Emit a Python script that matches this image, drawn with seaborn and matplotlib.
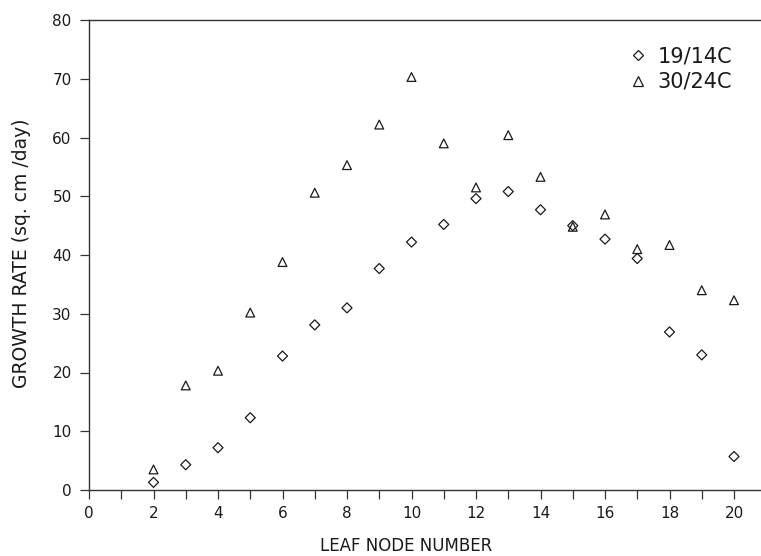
import matplotlib
matplotlib.use("Agg")
import matplotlib.pyplot as plt
from matplotlib.lines import Line2D
import seaborn as sns
import pandas as pd

# Leaf node numbers and leaf-area growth rates (sq. cm/day) at two temperature regimes
nodes = list(range(2, 21))
rate_19_14 = [1.3, 4.3, 7.2, 12.3, 22.8, 28.1, 31.0, 37.7, 42.2, 45.2, 49.6,
              50.8, 47.7, 45.0, 42.7, 39.4, 26.9, 23.0, 5.7]
rate_30_24 = [3.5, 17.8, 20.3, 30.2, 38.8, 50.6, 55.3, 62.2, 70.3, 59.0, 51.5,
              60.4, 53.3, 44.8, 46.9, 41.0, 41.7, 34.0, 32.3]
series_names = ["19/14C", "30/24C"]
x_ticks = list(range(0, 21, 2))
y_ticks = list(range(0, 81, 10))

df = pd.concat([
    pd.DataFrame({"node": nodes, "rate": rate_19_14, "regime": series_names[0]}),
    pd.DataFrame({"node": nodes, "rate": rate_30_24, "regime": series_names[1]}),
])

sns.set_style("white")
plt.rcParams["font.family"] = ["DejaVu Sans"]
ink = "#1a1a1a"

fig = plt.figure(figsize=(7.61, 5.56), dpi=100)
W, H = 761, 556
left, right, top, bottom = 89, 761, 20, 490
ax = fig.add_axes([left / W, (H - bottom) / H, (right - left) / W, (bottom - top) / H])

markers = {series_names[0]: "D", series_names[1]: "^"}
sizes = {series_names[0]: 26, series_names[1]: 40}
for name in series_names:
    sns.scatterplot(data=df[df["regime"] == name], x="node", y="rate",
                    marker=markers[name], s=sizes[name], color=ink,
                    facecolor="none", edgecolor=ink, linewidth=0.9,
                    ax=ax, legend=False, clip_on=False, zorder=3)
for coll in ax.collections:
    coll.set_facecolor("none")
    coll.set_edgecolor(ink)

ax.set_xlim(0, (right - left) / 32.25)
ax.set_ylim(0, 80)
ax.set_xticks(x_ticks)
ax.set_xticks(range(1, 21, 2), minor=True)
ax.set_yticks(y_ticks)

for s in ["left", "bottom", "top"]:
    ax.spines[s].set_color("#333333")
    ax.spines[s].set_linewidth(1.0)
ax.spines["right"].set_visible(False)

ax.tick_params(axis="both", which="both", direction="out", length=6.5, width=0.9,
               color="#333333", labelcolor=ink, labelsize=11)
ax.tick_params(axis="x", which="both", bottom=True, pad=5)
ax.tick_params(axis="y", which="both", left=True, pad=6)

ax.set_xlabel("LEAF NODE NUMBER", fontsize=12, color=ink)
ax.set_ylabel("GROWTH RATE (sq. cm /day)", fontsize=13.5, color=ink)
ax.xaxis.set_label_coords((406 - left) / (right - left), -(537 - bottom) / (bottom - top))
ax.yaxis.set_label_coords((31 - left) / (right - left), (bottom - 253) / (bottom - top))

handles = [Line2D([], [], linestyle="none", marker=markers[n],
                  markersize=5.5 if n == series_names[0] else 7,
                  markerfacecolor="none", markeredgecolor=ink, markeredgewidth=0.9)
           for n in series_names]
ax.legend(handles, series_names, loc="upper right", bbox_to_anchor=(0.985, 0.983),
          frameon=False, fontsize=15, handletextpad=0.45, labelspacing=0.25,
          handlelength=1.0, labelcolor=ink)

fig.savefig("out.png", dpi=100)
